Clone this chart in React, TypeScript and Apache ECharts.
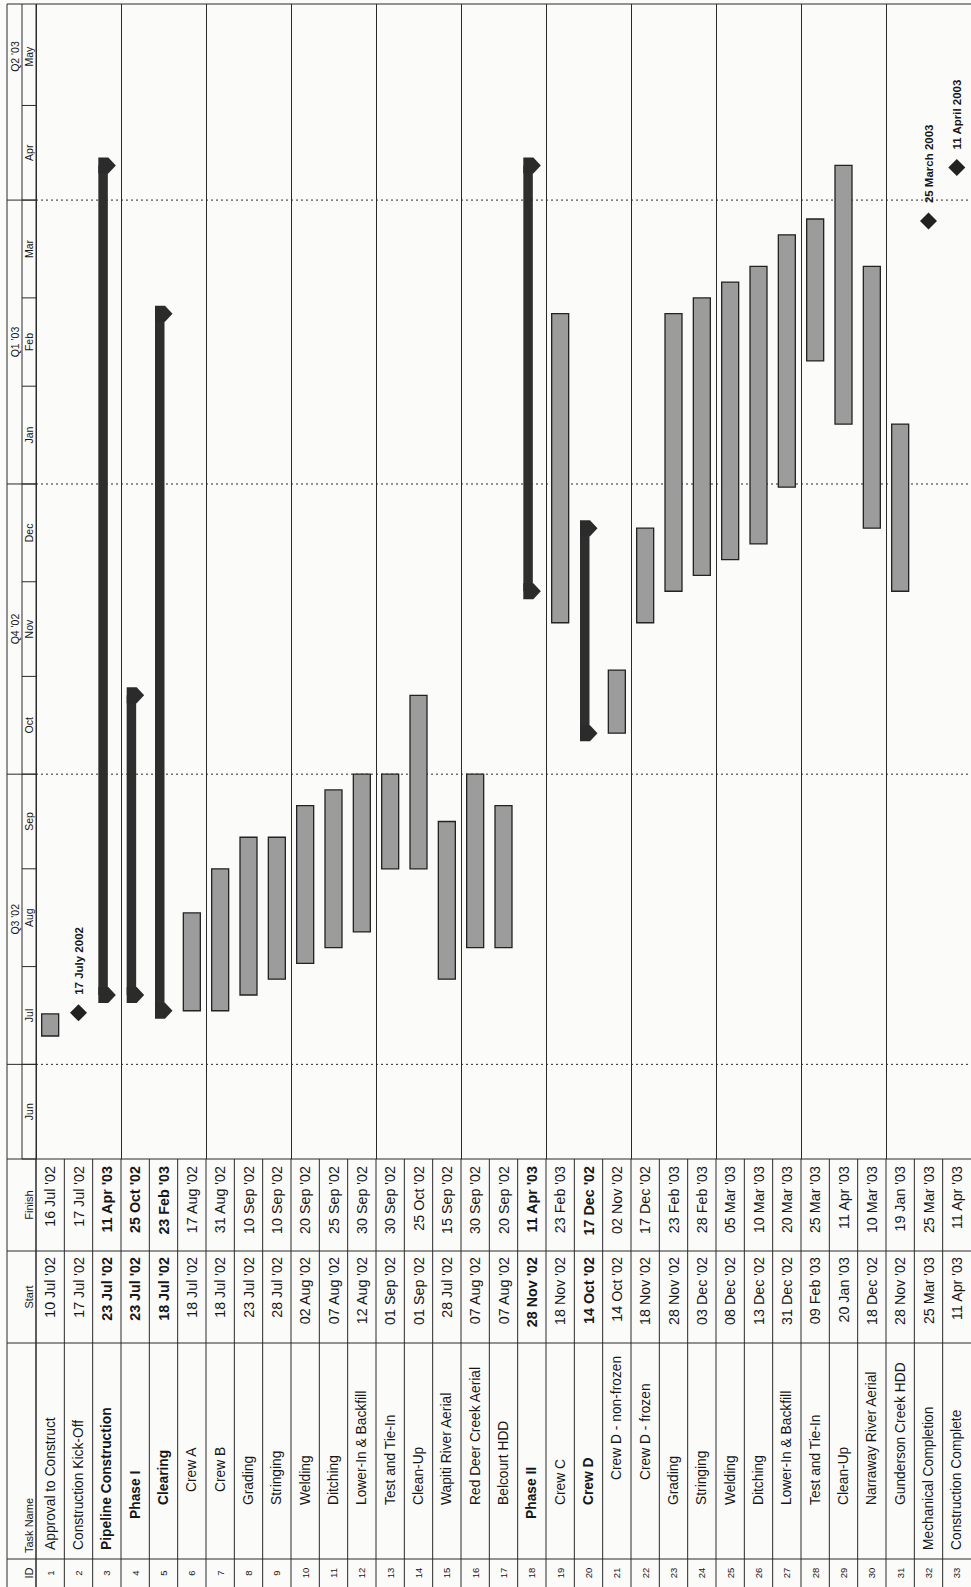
import React, { useEffect, useRef } from "react";
import * as echarts from "echarts";

// ---- Schedule data ----
const taskIds = [
  1, 2, 3, 4, 5, 6, 7, 8, 9, 10, 11, 12, 13, 14, 15, 16, 17, 18, 19, 20, 21, 22,
  23, 24, 25, 26, 27, 28, 29, 30, 31, 32, 33,
];

const taskNames = [
  "Approval to Construct",
  "Construction Kick-Off",
  "Pipeline Construction",
  "Phase I",
  "Clearing",
  "Crew A",
  "Crew B",
  "Grading",
  "Stringing",
  "Welding",
  "Ditching",
  "Lower-In & Backfill",
  "Test and Tie-In",
  "Clean-Up",
  "Wapiti River Aerial",
  "Red Deer Creek Aerial",
  "Belcourt HDD",
  "Phase II",
  "Crew C",
  "Crew D",
  "Crew D - non-frozen",
  "Crew D - frozen",
  "Grading",
  "Stringing",
  "Welding",
  "Ditching",
  "Lower-In & Backfill",
  "Test and Tie-In",
  "Clean-Up",
  "Narraway River Aerial",
  "Gunderson Creek HDD",
  "Mechanical Completion",
  "Construction Complete",
];

const taskStarts = [
  "2002-07-10", "2002-07-17", "2002-07-23", "2002-07-23", "2002-07-18",
  "2002-07-18", "2002-07-18", "2002-07-23", "2002-07-28", "2002-08-02",
  "2002-08-07", "2002-08-12", "2002-09-01", "2002-09-01", "2002-07-28",
  "2002-08-07", "2002-08-07", "2002-11-28", "2002-11-18", "2002-10-14",
  "2002-10-14", "2002-11-18", "2002-11-28", "2002-12-03", "2002-12-08",
  "2002-12-13", "2002-12-31", "2003-02-09", "2003-01-20", "2002-12-18",
  "2002-11-28", "2003-03-25", "2003-04-11",
];

const taskFinishes = [
  "2002-07-16", "2002-07-17", "2003-04-11", "2002-10-25", "2003-02-23",
  "2002-08-17", "2002-08-31", "2002-09-10", "2002-09-10", "2002-09-20",
  "2002-09-25", "2002-09-30", "2002-09-30", "2002-10-25", "2002-09-15",
  "2002-09-30", "2002-09-20", "2003-04-11", "2003-02-23", "2002-12-17",
  "2002-11-02", "2002-12-17", "2003-02-23", "2003-02-28", "2003-03-05",
  "2003-03-10", "2003-03-20", "2003-03-25", "2003-04-11", "2003-03-10",
  "2003-01-19", "2003-03-25", "2003-04-11",
];

const taskKinds = [
  "task", "milestone", "summary", "summary", "summary", "task", "task", "task",
  "task", "task", "task", "task", "task", "task", "task", "task", "task",
  "summary", "task", "summary", "task", "task", "task", "task", "task", "task",
  "task", "task", "task", "task", "task", "milestone", "milestone",
];

// indentation step of each name in the Task Name column
const outlineLevels = [
  0, 0, 0, 1, 2, 3, 3, 2, 2, 2, 2, 2, 2, 2, 2, 2, 2, 1, 2, 2, 4, 4, 2, 2, 2, 2,
  2, 2, 2, 2, 2, 0, 0,
];

// ---- Timescale ----
const monthLabels = ["Jun", "Jul", "Aug", "Sep", "Oct", "Nov", "Dec", "Jan", "Feb", "Mar", "Apr", "May"];
const monthStarts = [
  "2002-06-01", "2002-07-01", "2002-08-01", "2002-09-01", "2002-10-01", "2002-11-01",
  "2002-12-01", "2003-01-01", "2003-02-01", "2003-03-01", "2003-04-01", "2003-05-01",
];
const monthEnds = [
  "2002-07-01", "2002-08-01", "2002-09-01", "2002-10-01", "2002-11-01", "2002-12-01",
  "2003-01-01", "2003-02-01", "2003-03-01", "2003-04-01", "2003-05-01", "2003-06-01",
];
const quarterLabels = ["Q3 '02", "Q4 '02", "Q1 '03", "Q2 '03"];
const quarterStarts = ["2002-07-01", "2002-10-01", "2003-01-01", "2003-04-01"];
const quarterEnds = ["2002-10-01", "2003-01-01", "2003-04-01", "2003-07-01"];

// ---- helpers ----
const DAY = 86400000;
const HOUR = 3600000;
const MON_SHORT = ["Jan", "Feb", "Mar", "Apr", "May", "Jun", "Jul", "Aug", "Sep", "Oct", "Nov", "Dec"];
const MON_LONG = ["January", "February", "March", "April", "May", "June", "July", "August", "September", "October", "November", "December"];

const toTime = (s: string) => {
  const [y, m, d] = s.split("-").map(Number);
  return Date.UTC(y, m - 1, d);
};
const fmtShort = (s: string) => {
  const [y, m, d] = s.split("-").map(Number);
  return `${String(d).padStart(2, "0")} ${MON_SHORT[m - 1]} '${String(y).slice(2)}`;
};
const fmtLong = (s: string) => {
  const [y, m, d] = s.split("-").map(Number);
  return `${d} ${MON_LONG[m - 1]} ${y}`;
};

const FONT = "'Liberation Sans', Arial, Helvetica, sans-serif";
const INK = "#161616";
const LINE = "#2a2a2a";

// page layout (pixels)
const W = 971;
const H = 1587;
const LEFT_EDGE = 7;
const TIER_SPLIT = 22;
const CHART_LEFT = 36;
const CHART_TOP = 4;
const TABLE_TOP = 1159;
const FINISH_END = 1251;
const START_END = 1343;
const NAME_END = 1559;
const NAME_BASE = 1550;
const INDENTS = [0, 31, 45, 58, 70];

const AXIS_MIN = Date.UTC(2002, 5, 1);
const AXIS_MAX = Date.UTC(2003, 5, 2, 4);

const KIND_CODE: Record<string, number> = { task: 0, summary: 1, milestone: 2 };

const taskData = taskIds.map((_, i) => {
  const kind = taskKinds[i];
  if (kind === "milestone") {
    const t = toTime(taskStarts[i]) + 8 * HOUR;
    return [i, t, t, KIND_CODE[kind]];
  }
  return [i, toTime(taskStarts[i]), toTime(taskFinishes[i]) + DAY, KIND_CODE[kind]];
});
const milestoneText = taskIds.map((_, i) => (taskKinds[i] === "milestone" ? fmtLong(taskStarts[i]) : ""));

const tableData = taskIds.map((_, i) => [i, AXIS_MIN]);
const monthData = monthLabels.map((_, i) => [0, toTime(monthStarts[i]), toTime(monthEnds[i])]);
const quarterData = quarterLabels.map((_, i) => [0, toTime(quarterStarts[i]), toTime(quarterEnds[i])]);

const vText = (
  x: number,
  y: number,
  text: string,
  size: number,
  align: string,
  bold = false
) => ({
  type: "text",
  x,
  y,
  rotation: Math.PI / 2,
  style: {
    text,
    fill: INK,
    fontSize: size,
    fontFamily: FONT,
    fontWeight: bold ? "bold" : "normal",
    align,
    verticalAlign: "middle",
  },
});

const hLine = (x1: number, x2: number, y: number, dash?: number[]) => ({
  type: "line",
  shape: { x1, y1: y, x2, y2: y },
  style: { stroke: LINE, lineWidth: 1, lineDash: dash },
});
const vLine = (x: number, y1: number, y2: number) => ({
  type: "line",
  shape: { x1: x, y1, x2: x, y2 },
  style: { stroke: LINE, lineWidth: 1 },
});

// Gantt bars, summary bars and milestones
const renderTask = (params: any, api: any) => {
  const row = api.value(0) as number;
  const kind = api.value(3) as number;
  const p0 = api.coord([row + 0.5, api.value(1)]);
  const p1 = api.coord([row + 0.5, api.value(2)]);
  const cx = p0[0];
  const yStart = p0[1];
  const yEnd = p1[1];
  if (kind === 0) {
    return {
      type: "rect",
      shape: { x: cx - 8.5, y: yEnd, width: 17, height: yStart - yEnd },
      style: { fill: "#9c9c9c", stroke: "#222222", lineWidth: 1.3 },
    };
  }
  if (kind === 1) {
    const cap = (y: number) => ({
      type: "polygon",
      shape: {
        points: [
          [cx - 8.5, y - 8],
          [cx + 1.5, y - 8],
          [cx + 9, y],
          [cx + 1.5, y + 8],
          [cx - 8.5, y + 8],
        ],
      },
      style: { fill: "#2b2b2b" },
    });
    return {
      type: "group",
      children: [
        {
          type: "rect",
          shape: { x: cx - 8.5, y: yEnd, width: 9.5, height: yStart - yEnd },
          style: { fill: "#2e2e2e" },
        },
        cap(yStart),
        cap(yEnd),
      ],
    };
  }
  const cy = yStart;
  return {
    type: "group",
    children: [
      {
        type: "polygon",
        shape: { points: [[cx, cy - 8.5], [cx + 8.5, cy], [cx, cy + 8.5], [cx - 8.5, cy]] },
        style: { fill: "#222222" },
      },
      vText(cx, cy - 18, milestoneText[params.dataIndex], 11.5, "left", true),
    ],
  };
};

// One table row: ID, task name, start and finish cells
const renderRow = (params: any, api: any) => {
  const row = api.value(0) as number;
  const i = params.dataIndex;
  const p = api.coord([row, AXIS_MIN]);
  const w = api.size([1, 0])[0];
  const xl = p[0];
  const top = p[1];
  const cx = xl + w / 2;
  const bold = taskKinds[i] === "summary";
  return {
    type: "group",
    children: [
      vLine(xl, top, H),
      vText(cx, 1573, String(taskIds[i]), 9.5, "center"),
      vText(cx, NAME_BASE - INDENTS[outlineLevels[i]], taskNames[i], 13.8, "left", bold),
      vText(cx, FINISH_END + 6, fmtShort(taskStarts[i]), 14.3, "right", bold),
      vText(cx, top + 7, fmtShort(taskFinishes[i]), 14.3, "right", bold),
    ],
  };
};

// Month tier of the timescale
const renderMonth = (params: any, api: any) => {
  const a = api.coord([0, api.value(1)]);
  const b = api.coord([0, api.value(2)]);
  const x0 = a[0];
  return {
    type: "group",
    children: [
      hLine(TIER_SPLIT, x0, a[1]),
      vText((TIER_SPLIT + x0) / 2, (a[1] + b[1]) / 2, monthLabels[params.dataIndex], 10.5, "center"),
    ],
  };
};

// Quarter tier of the timescale and the dotted quarter lines
const renderQuarter = (params: any, api: any) => {
  const a = api.coord([0, api.value(1)]);
  const b = api.coord([0, api.value(2)]);
  const x0 = a[0];
  return {
    type: "group",
    children: [
      hLine(LEFT_EDGE, x0, a[1]),
      hLine(x0, api.getWidth(), a[1], [2, 3]),
      vText((LEFT_EDGE + TIER_SPLIT) / 2, (a[1] + b[1]) / 2, quarterLabels[params.dataIndex], 10.5, "center"),
    ],
  };
};

const headerGraphics = [
  vLine(LEFT_EDGE, CHART_TOP, H),
  vLine(TIER_SPLIT, CHART_TOP, TABLE_TOP),
  vLine(CHART_LEFT, CHART_TOP, H),
  hLine(LEFT_EDGE, W, CHART_TOP),
  hLine(LEFT_EDGE, W, TABLE_TOP),
  hLine(LEFT_EDGE, W, FINISH_END),
  hLine(LEFT_EDGE, W, START_END),
  hLine(LEFT_EDGE, W, NAME_END),
  vText(29, (TABLE_TOP + FINISH_END) / 2, "Finish", 11, "center"),
  vText(29, (FINISH_END + START_END) / 2, "Start", 11, "center"),
  vText(29, 1553, "Task Name", 11, "left"),
  vText(29, 1573, "ID", 11, "center"),
];

export default function App() {
  const ref = useRef<HTMLDivElement>(null);
  useEffect(() => {
    const chart = echarts.init(ref.current!, null, { renderer: "svg" });
    chart.setOption({
      animation: false,
      backgroundColor: "#fbfbfa",
      grid: { left: CHART_LEFT, right: -7, top: CHART_TOP, bottom: H - TABLE_TOP },
      xAxis: {
        type: "value",
        min: 0,
        max: 33,
        interval: 3,
        axisLabel: { show: false },
        axisTick: { show: false },
        axisLine: { show: false },
        splitLine: { show: true, lineStyle: { color: LINE, width: 1 } },
      },
      yAxis: {
        type: "time",
        min: AXIS_MIN,
        max: AXIS_MAX,
        axisLabel: { show: false },
        axisTick: { show: false },
        axisLine: { show: false },
        splitLine: { show: false },
      },
      graphic: headerGraphics,
      series: [
        {
          type: "custom",
          name: "timescale-quarters",
          silent: true,
          clip: false,
          renderItem: renderQuarter,
          encode: { x: 0, y: [1, 2] },
          data: quarterData,
        },
        {
          type: "custom",
          name: "timescale-months",
          silent: true,
          clip: false,
          renderItem: renderMonth,
          encode: { x: 0, y: [1, 2] },
          data: monthData,
        },
        {
          type: "custom",
          name: "table",
          silent: true,
          clip: false,
          renderItem: renderRow,
          encode: { x: 0, y: 1 },
          data: tableData,
        },
        {
          type: "custom",
          name: "tasks",
          silent: true,
          clip: false,
          renderItem: renderTask,
          encode: { x: 0, y: [1, 2] },
          data: taskData,
        },
      ],
    });
    return () => chart.dispose();
  }, []);
  return <div ref={ref} style={{ position: "absolute", left: 0, top: 0, width: W, height: H }} />;
}
